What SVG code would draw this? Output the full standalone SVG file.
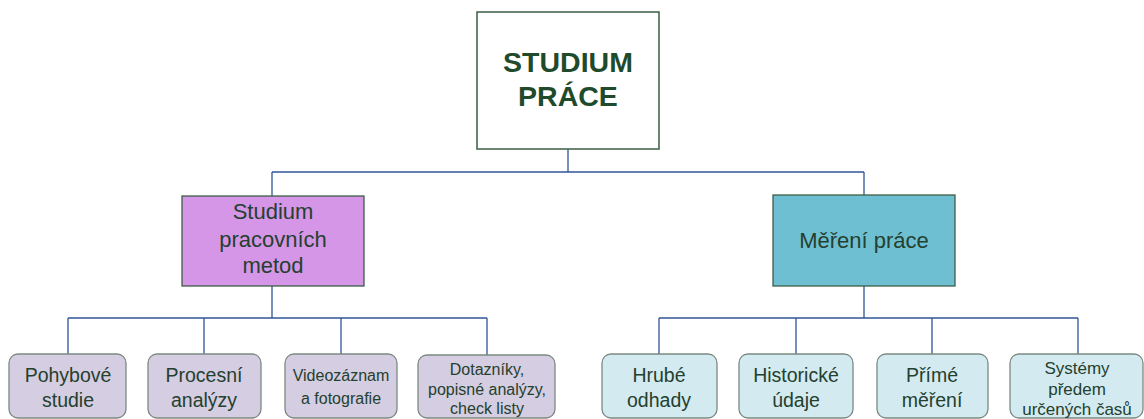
<svg xmlns="http://www.w3.org/2000/svg" width="1144" height="419" viewBox="0 0 1144 419">
<style>
text{font-family:"Liberation Sans",Arial,sans-serif;fill:#24402e;text-anchor:middle}
.conn{stroke:#2f5597;stroke-width:1.3;fill:none}
.top{fill:#fff;stroke:#3d5e45;stroke-width:1.5}
.mid{stroke:#3d5e45;stroke-width:1.3}
.leaf{stroke:#7b8a80;stroke-width:1.3}
.lv{fill:#d5cde1}
.cy{fill:#d3eaf0}
.t20{font-size:22px}
.t17{font-size:19.5px}
.t14{font-size:16px}
.t15{font-size:17px}
</style>
<rect width="1144" height="419" fill="#fff"/>
<g id="connectors" class="conn">
<path d="M568 149V172M272 172H864M272 172V196M864 172V195"/>
<path d="M272 286V318M68 318H487M68 318V354M204 318V354M341 318V354M487 318V355"/>
<path d="M864 286V318M659 318H1078M659 318V354M796 318V354M932 318V354M1078 318V354"/>
</g>
<g id="studium-prace">
<rect class="top" x="477" y="12" width="182" height="137"/>
<text x="568" y="72" style="font-size:28.5px;font-weight:bold;fill:#1f4a2c">STUDIUM</text>
<text x="568" y="106" style="font-size:28.5px;font-weight:bold;fill:#1f4a2c">PRÁCE</text>
</g>
<g id="studium-metod">
<rect class="mid" x="182" y="196" width="182" height="90" fill="#d596e8"/>
<text class="t20" x="273" y="219">Studium</text>
<text class="t20" x="273" y="247">pracovních</text>
<text class="t20" x="273" y="273">metod</text>
</g>
<g id="mereni-prace">
<rect class="mid" x="773" y="195" width="182" height="91" fill="#6fbfd3"/>
<text class="t20" x="864" y="248">Měření práce</text>
</g>
<g id="pohybove">
<rect class="leaf lv" x="9" y="354" width="117" height="64" rx="9"/>
<text class="t17" x="68" y="382">Pohybové</text>
<text class="t17" x="68" y="407">studie</text>
</g>
<g id="procesni">
<rect class="leaf lv" x="148" y="354" width="113" height="64" rx="9"/>
<text class="t17" x="204" y="382">Procesní</text>
<text class="t17" x="204" y="407">analýzy</text>
</g>
<g id="video">
<rect class="leaf lv" x="285" y="354" width="112" height="64" rx="9"/>
<text class="t14" x="341" y="381">Videozáznam</text>
<text class="t14" x="341" y="404">a fotografie</text>
</g>
<g id="dotazniky">
<rect class="leaf lv" x="418" y="355" width="137" height="63" rx="9"/>
<text class="t14" x="487" y="375">Dotazníky,</text>
<text class="t14" x="487" y="395">popisné analýzy,</text>
<text class="t14" x="487" y="414">check listy</text>
</g>
<g id="hrube">
<rect class="leaf cy" x="602" y="354" width="115" height="64" rx="9"/>
<text class="t17" x="659" y="382">Hrubé</text>
<text class="t17" x="659" y="407">odhady</text>
</g>
<g id="historicke">
<rect class="leaf cy" x="739" y="354" width="114" height="64" rx="9"/>
<text class="t17" x="796" y="382">Historické</text>
<text class="t17" x="796" y="407">údaje</text>
</g>
<g id="prime">
<rect class="leaf cy" x="877" y="354" width="111" height="64" rx="9"/>
<text class="t17" x="932" y="382">Přímé</text>
<text class="t17" x="932" y="407">měření</text>
</g>
<g id="systemy">
<rect class="leaf cy" x="1010" y="354" width="133" height="64" rx="9"/>
<text class="t15" x="1077" y="374">Systémy</text>
<text class="t15" x="1077" y="395">předem</text>
<text class="t15" x="1077" y="415">určených časů</text>
</g>
</svg>
